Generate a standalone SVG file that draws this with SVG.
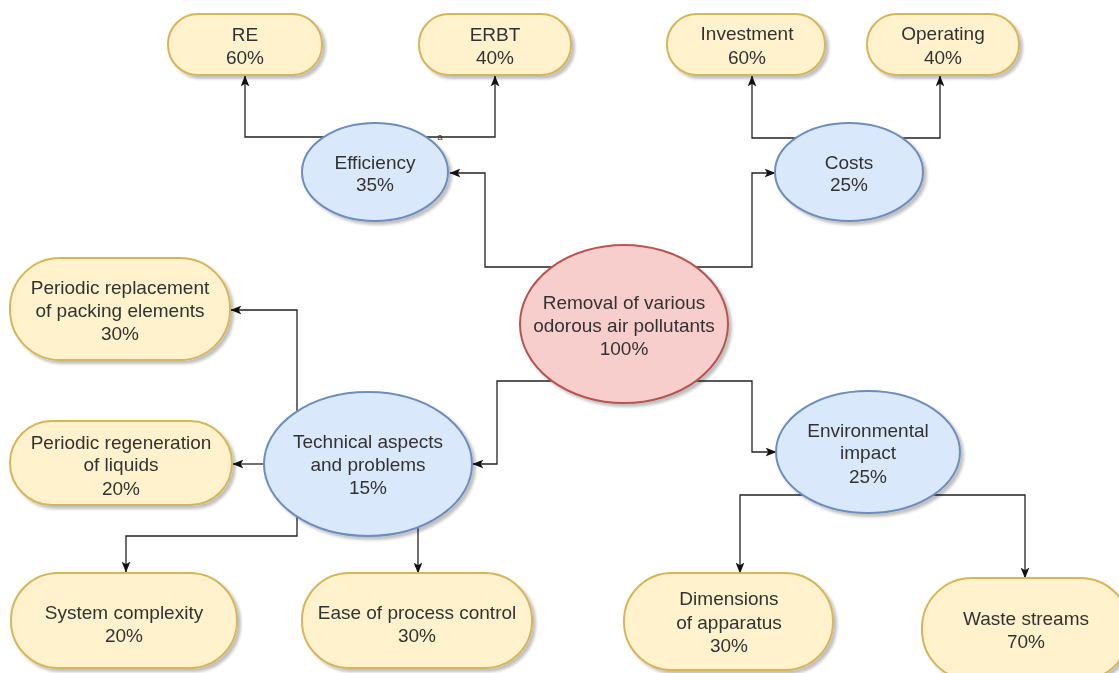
<svg xmlns="http://www.w3.org/2000/svg" width="1119" height="673" viewBox="0 0 1119 673">
<defs>
<style>
.t{font-family:"Liberation Sans",Arial,sans-serif;font-size:19px;fill:#333;text-anchor:middle}
.y{fill:#fff2cc;stroke:#d6b656;stroke-width:2}
.b{fill:#dae8fc;stroke:#6c8ebf;stroke-width:2}
.r{fill:#f8cecc;stroke:#b85450;stroke-width:2}
.c{fill:none;stroke:#222;stroke-width:1.3;marker-end:url(#ar)}
</style>
<marker id="ar" viewBox="0 0 10 8" markerWidth="11" markerHeight="9" refX="9.5" refY="4" orient="auto" markerUnits="userSpaceOnUse">
<path d="M0,0 L10,4 L0,8 L2.5,4 z" fill="#111"/>
</marker>
<filter id="sh" x="-10%" y="-10%" width="130%" height="130%">
<feGaussianBlur in="SourceAlpha" stdDeviation="1.5"/>
<feOffset dx="3" dy="3" result="o"/>
<feComponentTransfer><feFuncA type="linear" slope="0.25"/></feComponentTransfer>
<feMerge><feMergeNode/><feMergeNode in="SourceGraphic"/></feMerge>
</filter>
</defs>
<rect width="1119" height="673" fill="#fff"/>

<g id="connectors">
<path class="c" d="M552,267 H485 V173 H450"/>
<path class="c" d="M696,267 H752 V173 H775"/>
<path class="c" d="M552,381 H497 V464 H473"/>
<path class="c" d="M696,381 H752 V452 H776"/>
<path class="c" d="M324,137 H245 V76"/>
<path class="c" d="M426,137 H495 V76"/>
<path class="c" d="M798,138 H752 V76"/>
<path class="c" d="M902,138 H940 V76"/>
<path class="c" d="M297,411 V310 H231"/>
<path class="c" d="M264,464 H233"/>
<path class="c" d="M297,517 V536 H126 V572"/>
<path class="c" d="M418,527 V573"/>
<path class="c" d="M803,495 H740 V573"/>
<path class="c" d="M933,495 H1025 V578"/>
<text x="440" y="140" style="font-family:'Liberation Sans',Arial,sans-serif;font-size:9px;fill:#333" text-anchor="middle">a</text>
</g>

<g id="root" filter="url(#sh)">
<ellipse class="r" cx="624" cy="324" rx="104" ry="79"/>
<text class="t" x="624" y="309">Removal of various</text>
<text class="t" x="624" y="332">odorous air pollutants</text>
<text class="t" x="624" y="355">100%</text>
</g>

<g id="efficiency" filter="url(#sh)">
<ellipse class="b" cx="375" cy="172" rx="73" ry="49"/>
<text class="t" x="375" y="169">Efficiency</text>
<text class="t" x="375" y="191">35%</text>
</g>

<g id="costs" filter="url(#sh)">
<ellipse class="b" cx="849" cy="172" rx="74" ry="49"/>
<text class="t" x="849" y="169">Costs</text>
<text class="t" x="849" y="191">25%</text>
</g>

<g id="technical" filter="url(#sh)">
<ellipse class="b" cx="368" cy="464" rx="104" ry="72"/>
<text class="t" x="368" y="448">Technical aspects</text>
<text class="t" x="368" y="471">and problems</text>
<text class="t" x="368" y="494">15%</text>
</g>

<g id="environmental" filter="url(#sh)">
<ellipse class="b" cx="868" cy="452" rx="92" ry="61"/>
<text class="t" x="868" y="437">Environmental</text>
<text class="t" x="868" y="459">impact</text>
<text class="t" x="868" y="483">25%</text>
</g>

<g id="re" filter="url(#sh)">
<rect class="y" x="168" y="14" width="154" height="61" rx="30"/>
<text class="t" x="245" y="41">RE</text>
<text class="t" x="245" y="64">60%</text>
</g>

<g id="erbt" filter="url(#sh)">
<rect class="y" x="419" y="14" width="152" height="61" rx="30"/>
<text class="t" x="495" y="41">ERBT</text>
<text class="t" x="495" y="64">40%</text>
</g>

<g id="investment" filter="url(#sh)">
<rect class="y" x="667" y="14" width="158" height="61" rx="30"/>
<text class="t" x="747" y="40">Investment</text>
<text class="t" x="747" y="64">60%</text>
</g>

<g id="operating" filter="url(#sh)">
<rect class="y" x="867" y="14" width="152" height="61" rx="30"/>
<text class="t" x="943" y="40">Operating</text>
<text class="t" x="943" y="64">40%</text>
</g>

<g id="replacement" filter="url(#sh)">
<rect class="y" x="10" y="258" width="220" height="102" rx="50"/>
<text class="t" x="120" y="294">Periodic replacement</text>
<text class="t" x="120" y="317">of packing elements</text>
<text class="t" x="120" y="340">30%</text>
</g>

<g id="regeneration" filter="url(#sh)">
<rect class="y" x="10" y="421" width="222" height="84" rx="42"/>
<text class="t" x="121" y="449">Periodic regeneration</text>
<text class="t" x="121" y="471">of liquids</text>
<text class="t" x="121" y="495">20%</text>
</g>

<g id="system" filter="url(#sh)">
<rect class="y" x="11" y="573" width="226" height="95" rx="47"/>
<text class="t" x="124" y="619">System complexity</text>
<text class="t" x="124" y="642">20%</text>
</g>

<g id="ease" filter="url(#sh)">
<rect class="y" x="302" y="573" width="230" height="95" rx="47"/>
<text class="t" x="417" y="619">Ease of process control</text>
<text class="t" x="417" y="642">30%</text>
</g>

<g id="dimensions" filter="url(#sh)">
<rect class="y" x="624" y="573" width="209" height="97" rx="48"/>
<text class="t" x="729" y="605">Dimensions</text>
<text class="t" x="729" y="629">of apparatus</text>
<text class="t" x="729" y="652">30%</text>
</g>

<g id="waste" filter="url(#sh)">
<rect class="y" x="922" y="578" width="208" height="102" rx="50"/>
<text class="t" x="1026" y="625">Waste streams</text>
<text class="t" x="1026" y="648">70%</text>
</g>
</svg>
